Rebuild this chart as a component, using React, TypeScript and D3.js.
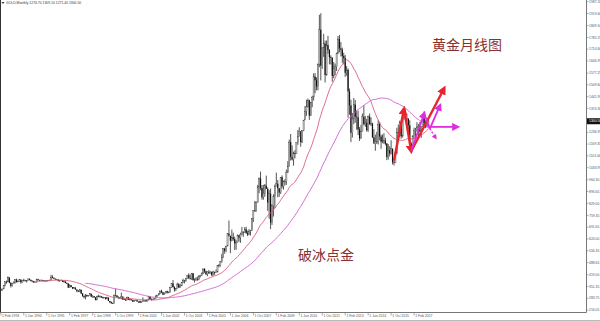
import React from 'react';
import * as d3 from 'd3';

// Monthly gold candles, Feb 1993 .. Dec 2017
const startYear = 1993;
const startMonth = 2;

const closes = [
  // 1993 (Feb-Dec)
  329, 337, 355, 378, 377, 401, 372, 355, 370, 371, 391,
  // 1994
  378, 381, 390, 376, 387, 386, 384, 386, 395, 389, 383, 383,
  // 1995
  375, 376, 392, 389, 385, 387, 384, 383, 384, 383, 387, 387,
  // 1996
  405, 400, 396, 392, 391, 382, 385, 387, 379, 379, 371, 369,
  // 1997
  345, 358, 348, 340, 345, 334, 326, 324, 332, 311, 296, 290,
  // 1998
  303, 297, 301, 309, 293, 296, 288, 273, 294, 292, 294, 288,
  // 1999
  287, 287, 280, 286, 268, 261, 255, 254, 299, 299, 291, 290,
  // 2000
  283, 293, 277, 275, 272, 288, 276, 277, 273, 264, 270, 273,
  // 2001
  265, 267, 258, 264, 267, 271, 266, 273, 293, 279, 275, 279,
  // 2002
  282, 297, 302, 308, 326, 318, 304, 312, 324, 317, 317, 347,
  // 2003
  368, 348, 334, 339, 364, 346, 354, 375, 385, 386, 397, 416,
  // 2004
  400, 397, 426, 387, 394, 395, 391, 409, 416, 428, 452, 438,
  // 2005
  422, 435, 428, 435, 415, 435, 430, 434, 473, 470, 495, 517,
  // 2006
  569, 556, 583, 654, 643, 614, 633, 624, 599, 604, 646, 632,
  // 2007
  650, 665, 662, 679, 659, 650, 666, 673, 743, 789, 783, 834,
  // 2008
  923, 972, 917, 864, 886, 930, 912, 834, 884, 718, 815, 870,
  // 2009
  928, 942, 916, 891, 979, 927, 954, 955, 1008, 1040, 1181, 1096,
  // 2010
  1081, 1118, 1113, 1180, 1213, 1244, 1181, 1248, 1307, 1358, 1386, 1421,
  // 2011
  1333, 1410, 1439, 1556, 1536, 1500, 1628, 1826, 1620, 1722, 1746, 1566,
  // 2012
  1738, 1710, 1669, 1664, 1561, 1604, 1614, 1692, 1773, 1719, 1711, 1675,
  // 2013
  1663, 1579, 1595, 1472, 1392, 1234, 1313, 1396, 1327, 1323, 1253, 1202,
  // 2014
  1240, 1326, 1284, 1292, 1250, 1327, 1282, 1287, 1208, 1171, 1182, 1184,
  // 2015
  1283, 1213, 1183, 1183, 1190, 1172, 1095, 1134, 1115, 1142, 1065, 1061,
  // 2016
  1118, 1238, 1233, 1293, 1215, 1321, 1351, 1309, 1316, 1277, 1173, 1146,
  // 2017
  1211, 1249, 1249, 1268, 1269, 1242, 1269, 1322, 1280, 1271, 1274.7, 1300.5,
];

const highs = [
  334, 339, 358, 380, 385, 409, 406, 375, 372, 381, 393,
  396, 385, 392, 392, 389, 396, 390, 388, 397, 397, 390, 386,
  382, 379, 396, 395, 389, 391, 390, 388, 387, 387, 389, 390,
  418, 416, 404, 396, 395, 392, 387, 390, 387, 386, 385, 375,
  368, 364, 358, 348, 348, 345, 334, 331, 335, 332, 313, 298,
  307, 303, 302, 314, 310, 301, 296, 290, 298, 304, 300, 297,
  293, 291, 290, 292, 289, 268, 265, 259, 305, 339, 300, 294,
  290, 316, 294, 286, 281, 293, 291, 282, 277, 276, 272, 276,
  272, 268, 270, 266, 289, 273, 270, 275, 296, 294, 283, 281,
  283, 299, 303, 312, 327, 333, 320, 317, 325, 327, 323, 349,
  370, 388, 352, 342, 373, 370, 365, 375, 396, 389, 399, 418,
  427, 420, 428, 429, 397, 404, 408, 416, 418, 430, 455, 456,
  442, 438, 446, 438, 437, 442, 436, 449, 474, 480, 498, 539,
  571, 574, 586, 655, 730, 632, 678, 660, 637, 617, 650, 645,
  660, 693, 668, 692, 694, 672, 681, 675, 744, 790, 842, 840,
  935, 977, 1011, 934, 935, 940, 988, 920, 906, 914, 824, 881,
  937, 1005, 963, 915, 980, 989, 960, 968, 1023, 1071, 1195, 1227,
  1162, 1126, 1135, 1181, 1249, 1266, 1209, 1249, 1308, 1388, 1424, 1431,
  1424, 1411, 1447, 1576, 1577, 1553, 1632, 1912, 1921, 1726, 1803, 1764,
  1764, 1791, 1714, 1679, 1668, 1640, 1632, 1694, 1790, 1796, 1755, 1723,
  1694, 1681, 1617, 1604, 1488, 1424, 1348, 1434, 1423, 1362, 1361, 1267,
  1280, 1345, 1392, 1331, 1315, 1333, 1345, 1323, 1292, 1255, 1224, 1239,
  1307, 1296, 1224, 1224, 1232, 1205, 1175, 1169, 1157, 1191, 1145, 1088,
  1127, 1263, 1282, 1304, 1303, 1362, 1375, 1365, 1343, 1316, 1306, 1180,
  1220, 1264, 1262, 1295, 1285, 1296, 1270, 1331, 1357, 1306, 1299, 1309.1,
];

const lows = [
  326, 327, 336, 352, 367, 377, 370, 345, 351, 369, 369,
  373, 375, 378, 367, 374, 380, 379, 374, 384, 386, 380, 375,
  372, 372, 375, 385, 381, 381, 382, 381, 381, 381, 382, 385,
  387, 398, 393, 389, 390, 381, 380, 384, 377, 377, 370, 365,
  342, 343, 347, 336, 337, 334, 318, 319, 319, 307, 292, 283,
  277, 291, 293, 301, 290, 286, 286, 272, 274, 289, 290, 285,
  283, 285, 276, 278, 268, 256, 252, 251, 254, 295, 287, 280,
  281, 278, 274, 274, 268, 275, 274, 271, 270, 263, 264, 268,
  263, 256, 256, 256, 264, 266, 264, 264, 272, 276, 270, 272,
  277, 282, 292, 300, 308, 313, 302, 302, 312, 311, 317, 317,
  344, 345, 321, 325, 340, 343, 343, 355, 370, 369, 378, 396,
  393, 391, 389, 386, 374, 383, 384, 387, 403, 411, 422, 428,
  417, 410, 424, 425, 414, 414, 418, 429, 433, 461, 465, 488,
  515, 539, 548, 583, 638, 543, 610, 614, 561, 562, 603, 609,
  602, 645, 636, 660, 653, 640, 646, 644, 671, 722, 782, 782,
  833, 887, 904, 850, 850, 867, 912, 785, 740, 681, 705, 753,
  801, 926, 864, 866, 883, 915, 908, 932, 935, 1003, 1040, 1075,
  1075, 1045, 1088, 1113, 1165, 1218, 1154, 1176, 1243, 1315, 1332, 1378,
  1308, 1330, 1381, 1419, 1462, 1478, 1478, 1611, 1535, 1602, 1670, 1523,
  1563, 1688, 1627, 1627, 1527, 1547, 1564, 1589, 1686, 1696, 1672, 1636,
  1627, 1555, 1562, 1321, 1338, 1180, 1207, 1284, 1292, 1251, 1221, 1187,
  1200, 1242, 1277, 1268, 1241, 1240, 1282, 1273, 1205, 1183, 1131, 1170,
  1167, 1191, 1142, 1174, 1170, 1162, 1077, 1080, 1098, 1110, 1052, 1046,
  1061, 1111, 1208, 1208, 1200, 1207, 1310, 1301, 1301, 1242, 1171, 1122,
  1146, 1200, 1195, 1240, 1214, 1236, 1205, 1267, 1274, 1261, 1264, 1271.4,
];

const firstOpen = 330;

const priceLabels = [
  '1987.20', '1919.60', '1849.50', '1782.25', '1714.60', '1646.95', '1577.25',
  '1509.60', '1441.95', '1374.30', '1304.65', '1236.95', '1169.35', '1101.60',
  '1033.95', '964.30', '896.65', '829.00', '759.35', '691.65', '624.00',
  '556.35', '488.65', '419.00', '351.35', '283.75', '216.05',
];

const timeLabels = [
  '1 Feb 1993', '1 Jun 1994', '1 Oct 1995', '1 Feb 1997', '1 Jun 1998',
  '1 Oct 1999', '1 Feb 2001', '1 Jun 2002', '1 Oct 2003', '1 Feb 2005',
  '1 Jun 2006', '1 Oct 2007', '1 Feb 2009', '1 Jun 2010', '1 Oct 2011',
  '1 Feb 2013', '1 Jun 2014', '1 Oct 2015', '1 Feb 2017',
];

const headerText = 'GOLD,Monthly  1274.70 1309.10 1271.40 1300.50';
const lastPriceText = '1300.50';
const lastPrice = 1300.5;
const titleCN = '黄金月线图';
const watermarkCN = '破冰点金';

const fastPeriod = 24;
const slowPeriod = 60;

// drawn arrows: [from month, from price, to month, to price]
const redArrows: [string, number, string, number][] = [
  ['2015-12', 1075, '2016-07', 1372],
  ['2016-07', 1372, '2016-12', 1128],
  ['2016-12', 1128, '2018-11', 1490],
];
const magentaArrows: [string, number, string, number][] = [
  ['2016-12', 1128, '2017-09', 1345],
  ['2018-01', 1258, '2018-08', 1390],
  ['2017-12', 1268, '2019-08', 1268],
];
const magentaLines: [string, number, string, number][] = [
  ['2017-09', 1345, '2018-01', 1258],
];
const magentaDashed: [string, number, string, number][] = [
  ['2018-01', 1258, '2018-05', 1205],
];

const monthNames = ['Jan', 'Feb', 'Mar', 'Apr', 'May', 'Jun', 'Jul', 'Aug', 'Sep', 'Oct', 'Nov', 'Dec'];
const idxOf = (y: number, m: number) => (y - startYear) * 12 + (m - startMonth);
const idxFromKey = (k: string) => {
  const [y, m] = k.split('-').map(Number);
  return idxOf(y, m);
};
const idxFromLabel = (l: string) => {
  const p = l.split(' ');
  return idxOf(+p[2], monthNames.indexOf(p[1]) + 1);
};

function sma(vals: number[], n: number): (number | null)[] {
  return vals.map((_, i) => (i < n - 1 ? null : d3.mean(vals.slice(i - n + 1, i + 1)) as number));
}

export default function App() {
  const W = 600, H = 321;
  const axisX = 586.5;
  const axisY = 312.5;
  const x = d3.scaleLinear().domain([0, 408]).range([0.8, 0.8 + 408 * 1.435]);
  const y = d3.scaleLinear().domain([216.05, 1987.2]).range([310, 1.7]);

  const candles = closes.map((c, i) => ({
    i,
    o: i === 0 ? firstOpen : closes[i - 1],
    c,
    h: highs[i],
    l: lows[i],
  }));

  const fast = sma(closes, fastPeriod);
  const slow = sma(closes, slowPeriod);
  const line = d3
    .line<number | null>()
    .defined((d) => d !== null)
    .x((_, i) => x(i))
    .y((d) => y(d as number));

  const seg = (a: [string, number, string, number]) => ({
    x1: x(idxFromKey(a[0])),
    y1: y(a[1]),
    x2: x(idxFromKey(a[2])),
    y2: y(a[3]),
  });

  const font = "'Liberation Sans', Arial, sans-serif";

  return (
    <svg
      width={W}
      height={H}
      style={{ position: 'absolute', left: 0, top: 0, background: '#fff' }}
      fontFamily={font}
    >
      <defs>
        <clipPath id="plot">
          <rect x={0} y={0} width={axisX} height={axisY} />
        </clipPath>
        <marker id="headRed" markerUnits="userSpaceOnUse" markerWidth={9} markerHeight={9}
          refX={6} refY={4.5} orient="auto">
          <path d="M0,0 L9,4.5 L0,9 z" fill="#e8242c" />
        </marker>
        <marker id="headMag" markerUnits="userSpaceOnUse" markerWidth={8} markerHeight={8}
          refX={5} refY={4} orient="auto">
          <path d="M0,0 L8,4 L0,8 z" fill="#e02ce0" />
        </marker>
        <marker id="headMagS" markerUnits="userSpaceOnUse" markerWidth={5} markerHeight={5}
          refX={3} refY={2.5} orient="auto">
          <path d="M0,0 L5,2.5 L0,5 z" fill="#e02ce0" />
        </marker>
      </defs>
      <rect x={0} y={0} width={W} height={H} fill="#fff" />

      {/* Chinese captions */}
      <text x={432} y={50} fontSize={14} fill="#8a3030" fontFamily="'Noto Sans CJK SC', sans-serif">
        {titleCN}
      </text>
      <text x={298} y={260} fontSize={14} fill="#8a3030" fontFamily="'Noto Sans CJK SC', sans-serif">
        {watermarkCN}
      </text>

      <g clipPath="url(#plot)">
        {/* candles */}
        {candles.map((d) => {
          const cx = x(d.i);
          const up = d.c >= d.o;
          const top = y(Math.max(d.o, d.c));
          const bot = y(Math.min(d.o, d.c));
          return (
            <g key={d.i}>
              <line x1={cx} x2={cx} y1={y(d.h)} y2={y(d.l)} stroke="#2a2a2a" strokeWidth={0.8} />
              <rect
                x={cx - 0.6}
                y={top}
                width={1.2}
                height={Math.max(0.6, bot - top)}
                fill={up ? '#bbbbbb' : '#111'}
                stroke={up ? '#444' : 'none'}
                strokeWidth={0.3}
              />
            </g>
          );
        })}
        {/* moving averages */}
        <path d={line(fast) || ''} fill="none" stroke="#d9607c" strokeWidth={0.9} />
        <path d={line(slow) || ''} fill="none" stroke="#cf5fcf" strokeWidth={0.9} />

        {/* drawn arrows */}
        {redArrows.map((a, k) => {
          const s = seg(a);
          return <line key={'r' + k} {...s} stroke="#e8242c" strokeWidth={2.4} markerEnd="url(#headRed)" />;
        })}
        {magentaLines.map((a, k) => {
          const s = seg(a);
          return <line key={'ml' + k} {...s} stroke="#e02ce0" strokeWidth={1.8} />;
        })}
        {magentaArrows.map((a, k) => {
          const s = seg(a);
          return <line key={'m' + k} {...s} stroke="#e02ce0" strokeWidth={1.8} markerEnd="url(#headMag)" />;
        })}
        {magentaDashed.map((a, k) => {
          const s = seg(a);
          return (
            <line key={'md' + k} {...s} stroke="#e02ce0" strokeWidth={1.3} strokeDasharray="2,1.5"
              markerEnd="url(#headMagS)" />
          );
        })}
      </g>

      {/* frame */}
      <line x1={0.5} x2={0.5} y1={0} y2={axisY} stroke="#333" strokeWidth={1} />
      <line x1={axisX} x2={axisX} y1={0} y2={axisY} stroke="#777" strokeWidth={1} />
      <line x1={0} x2={axisX} y1={axisY} y2={axisY} stroke="#777" strokeWidth={1} />
      <line x1={0} x2={W} y1={320.5} y2={320.5} stroke="#bbb" strokeWidth={1} />

      {/* header */}
      <path d="M1.5,2 L4.5,2 L3,4 z" fill="#333" />
      <text x={6} y={4.2} fontSize={3.4} fill="#333">
        {headerText}
      </text>

      {/* price axis */}
      {priceLabels.map((p) => {
        const yy = y(+p);
        return (
          <g key={p}>
            <line x1={axisX} x2={axisX + 2} y1={yy} y2={yy} stroke="#777" strokeWidth={0.6} />
            <text x={axisX + 2.5} y={yy + 1.2} fontSize={3.4} fill="#555">
              {p}
            </text>
          </g>
        );
      })}
      <rect x={axisX + 0.5} y={y(lastPrice) - 3} width={13} height={6} fill="#111" />
      <text x={axisX + 2.5} y={y(lastPrice) + 1.2} fontSize={3.4} fill="#fff">
        {lastPriceText}
      </text>

      {/* time axis */}
      {timeLabels.map((l) => {
        const xx = x(idxFromLabel(l));
        return (
          <g key={l}>
            <line x1={xx} x2={xx} y1={axisY} y2={axisY + 3} stroke="#777" strokeWidth={0.6} />
            <text x={xx + 1.2} y={316.8} fontSize={3.4} fill="#555">
              {l}
            </text>
          </g>
        );
      })}
    </svg>
  );
}
